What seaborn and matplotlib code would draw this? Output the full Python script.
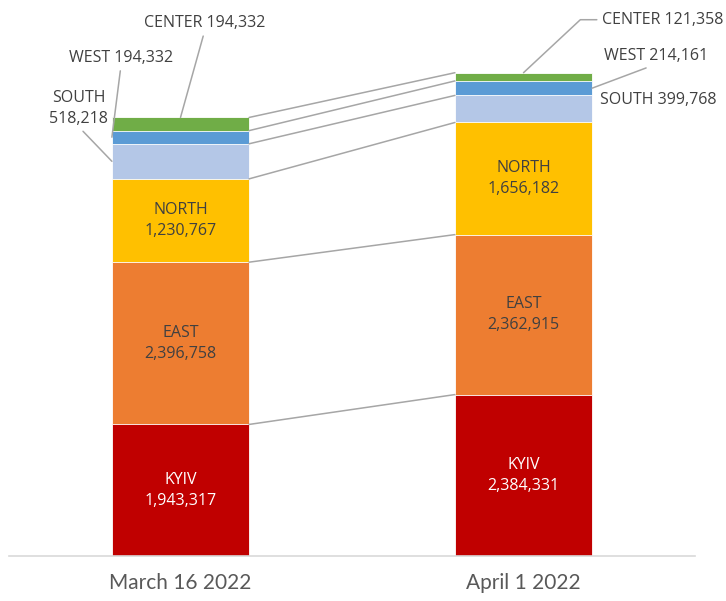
import numpy as np
import pandas as pd
import matplotlib
matplotlib.use("Agg")
import matplotlib.pyplot as plt
import seaborn as sns

# data
dates = ["March 16 2022", "April 1 2022"]
regions = ["KYIV", "EAST", "NORTH", "SOUTH", "WEST", "CENTER"]
kyiv = [1943317, 2384331]
east = [2396758, 2362915]
north = [1230767, 1656182]
south = [518218, 399768]
west = [194332, 214161]
center = [194332, 121358]

colors = ["#C00000", "#ED7D31", "#FFC000", "#B4C7E7", "#5B9BD5", "#70AD47"]
text_colors = ["white", "#404040", "#404040"]

df = pd.DataFrame({"date": dates, "KYIV": kyiv, "EAST": east, "NORTH": north,
                   "SOUTH": south, "WEST": west, "CENTER": center})
cum = df[regions].cumsum(axis=1)
bottoms = cum - df[regions]

sns.set_theme(style="white")
plt.rcParams['font.family'] = ['Open Sans', 'DejaVu Sans']

fig = plt.figure(figsize=(7.26, 6.01), dpi=100)
ax = fig.add_axes([9 / 726, 45 / 601, 686 / 726, 546 / 601])

# stacked bars: draw cumulative totals from top series down
for reg, col in reversed(list(zip(regions, colors))):
    sns.barplot(x="date", y=reg, data=cum.assign(date=dates), color=col,
                saturation=1, width=0.4, ax=ax, edgecolor="white", linewidth=0.6)

ax.set_xlim(-0.5, 1.5)
ax.set_ylim(0, 8.065e6)

# series lines between the bars
hw = 0.2
for reg in regions:
    ax.plot([0 + hw, 1 - hw], cum[reg].values, color="#A6A6A6", lw=1.1, zorder=1)

# labels inside the big segments
for reg, tc in zip(regions[:3], text_colors):
    for i in range(2):
        mid = bottoms[reg][i] + df[reg][i] / 2
        ax.text(i, mid, f"{reg}\n{df[reg][i]:,}", ha="center", va="center",
                color=tc, fontsize=11.5, linespacing=1.45, zorder=5)

lead = dict(arrowstyle="-", color="#A6A6A6", lw=1.1, shrinkA=1, shrinkB=0)
lab = dict(fontsize=11.5, color="#404040", textcoords="offset pixels", zorder=5)

def mid(reg, i):
    return bottoms[reg][i] + df[reg][i] / 2

# March callouts
ax.annotate(f"CENTER {center[0]:,}", xy=(0, cum["CENTER"][0]), xytext=(24, 94),
            ha="center", va="center", arrowprops=dict(lead, relpos=(0.5, 0)), **lab)
ax.annotate(f"WEST {west[0]:,}", xy=(-hw, mid("WEST", 0)), xytext=(9, 79),
            ha="center", va="center", arrowprops=dict(lead, relpos=(0.5, 0)), **lab)
ax.annotate(f"SOUTH\n{south[0]:,}", xy=(-hw, mid("SOUTH", 0)), xytext=(-33, 53),
            ha="center", va="center", linespacing=1.45,
            arrowprops=dict(lead, relpos=(0.5, 0)), **lab)

# April callouts
ax.annotate(f"CENTER {center[1]:,}", xy=(1, cum["CENTER"][1]), xytext=(78, 53),
            ha="left", va="center",
            arrowprops=dict(lead, relpos=(0, 0.5),
                            connectionstyle="angle,angleA=0,angleB=43,rad=0"), **lab)
ax.annotate(f"WEST {west[1]:,}", xy=(1 + hw, mid("WEST", 1)), xytext=(12, 32),
            ha="left", va="center", arrowprops=dict(lead, relpos=(0.5, 0)), **lab)
ax.annotate(f"SOUTH {south[1]:,}", xy=(1 + hw, mid("SOUTH", 1)), xytext=(8, 9),
            ha="left", va="center", **lab)

ax.set_xlabel("")
ax.set_ylabel("")
ax.set_yticks([])
ax.tick_params(axis="x", length=0, pad=12)
for t in ax.get_xticklabels():
    t.set_fontfamily(["Lato", "DejaVu Sans"])
    t.set_fontweight("normal")
    t.set_fontsize(15)
    t.set_color("#595959")
sns.despine(ax=ax, left=True)
ax.spines["bottom"].set_color("#D9D9D9")
ax.spines["bottom"].set_linewidth(1.2)

fig.savefig("out.png", dpi=100)
